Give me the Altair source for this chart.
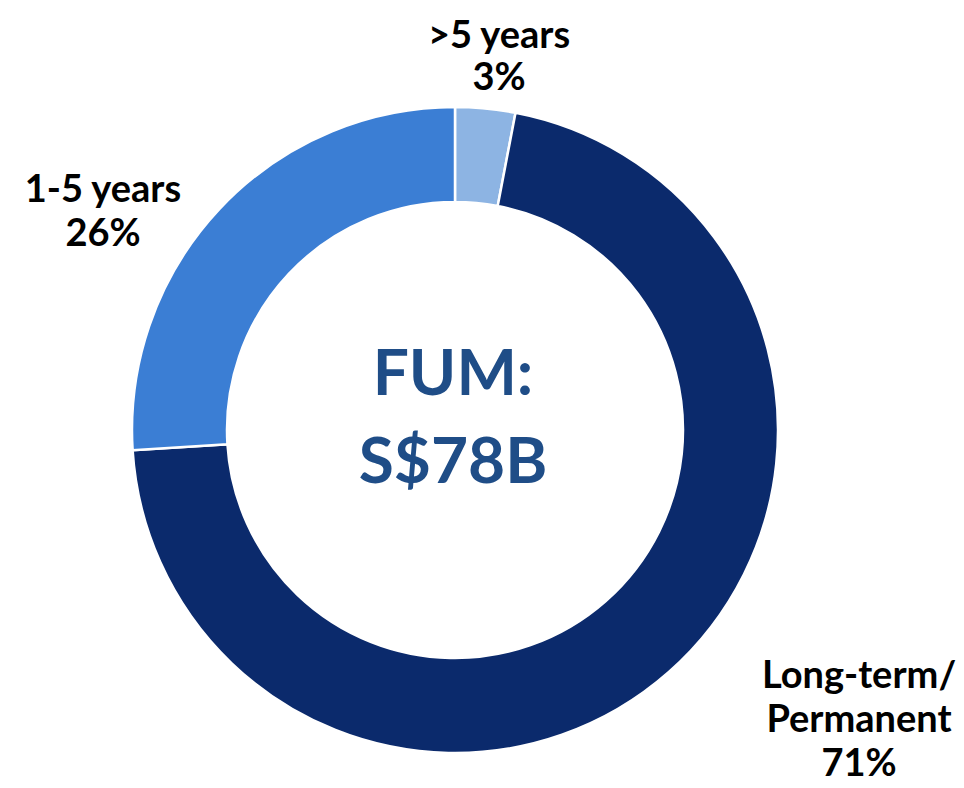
import altair as alt
import pandas as pd

categories = [">5 years", "Long-term/Permanent", "1-5 years"]
label_lines = [[">5 years"], ["Long-term/", "Permanent"], ["1-5 years"]]
values = [3, 71, 26]
colors = ["#8DB4E3", "#0B2A6C", "#3B7ED4"]
center_lines = ["FUM:", "S$78B"]

df = pd.DataFrame({
    "category": categories,
    "value": values,
    "order": [0, 1, 2],
    "text": [lines + [f"{v}%"] for lines, v in zip(label_lines, values)],
})

W, H = 948, 780
CX, CY = 447, 422

base = alt.Chart(df)

ring = base.mark_arc(outerRadius=323, innerRadius=228, stroke="white", strokeWidth=2.5).encode(
    theta=alt.Theta("value:Q", stack=True),
    order=alt.Order("order:Q"),
    color=alt.Color("category:N", scale=alt.Scale(domain=categories, range=colors), legend=None),
    x=alt.value(CX),
    y=alt.value(CY),
)

label_pos = {
    ">5 years": (491, 40, 42),
    "1-5 years": (95, 194, 44),
    "Long-term/Permanent": (851, 680, 44),
}

labels = []
for cat, (lx, ly, lh) in label_pos.items():
    labels.append(
        base.transform_filter(alt.datum.category == cat)
        .mark_text(font="Lato", fontWeight="bold", fontSize=38, lineHeight=lh,
                   align="center", baseline="alphabetic", color="#000000")
        .encode(text="text", x=alt.value(lx), y=alt.value(ly))
    )

center = alt.Chart(pd.DataFrame({"t": [center_lines]})).mark_text(
    font="Lato", fontWeight="bold", fontSize=64, lineHeight=88,
    align="center", baseline="alphabetic", color="#1F4D87"
).encode(text="t", x=alt.value(445), y=alt.value(387))

chart = alt.layer(ring, *labels, center).properties(
    width=W, height=H, padding=0, autosize=alt.AutoSizeParams(type="none")
).configure_view(stroke=None)

chart.save("out.html", embed_options={"renderer": "svg", "actions": False})
